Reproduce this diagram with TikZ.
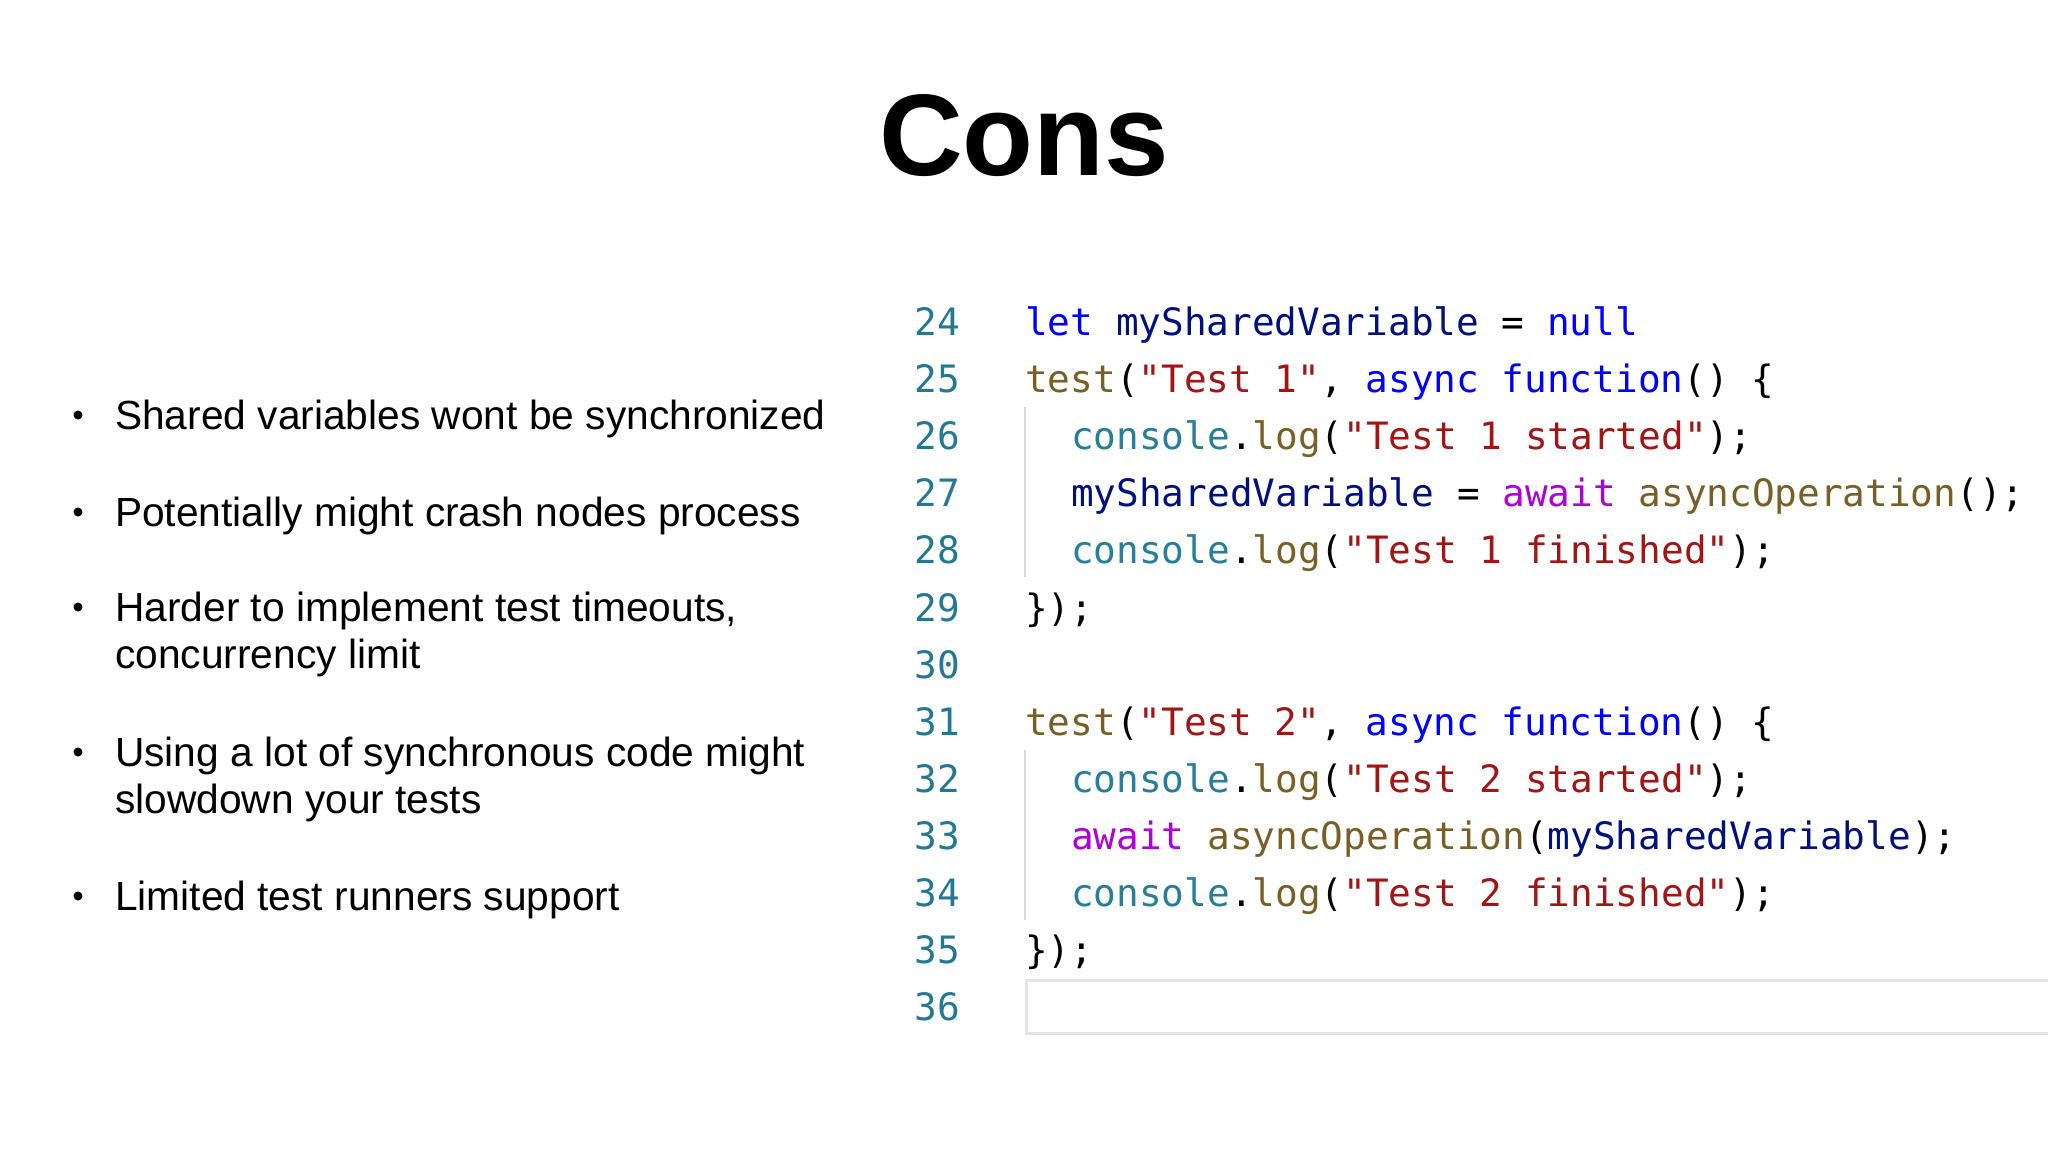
\documentclass[tikz,border=0pt]{standalone}
\usepackage{fontspec}
\setmainfont{Liberation Sans}
\newfontfamily\codefont{DejaVu Sans Mono}
\definecolor{lnum}{HTML}{237893}
\definecolor{kw}{HTML}{0000FF}
\definecolor{fn}{HTML}{795E26}
\definecolor{str}{HTML}{A31515}
\definecolor{cls}{HTML}{267F99}
\definecolor{var}{HTML}{001080}
\definecolor{ctl}{HTML}{AF00DB}
\newcommand{\K}[1]{\textcolor{kw}{#1}}
\newcommand{\F}[1]{\textcolor{fn}{#1}}
\newcommand{\Sg}[1]{\textcolor{str}{#1}}
\newcommand{\C}[1]{\textcolor{cls}{#1}}
\newcommand{\V}[1]{\textcolor{var}{#1}}
\newcommand{\A}[1]{\textcolor{ctl}{#1}}
\begin{document}
\begin{tikzpicture}[x=1pt,y=-1pt,
  bul/.style={inner sep=0pt,anchor=mid west,font=\fontsize{40.7}{48}\selectfont},
  dot/.style={circle,fill=black,inner sep=0pt,minimum size=9pt},
  ln/.style={inner sep=0pt,anchor=mid east,text=lnum,font=\codefont\fontsize{37.7}{45}\selectfont},
  cd/.style={inner sep=0pt,anchor=mid west,font=\codefont\fontsize{37.7}{45}\selectfont}]
\fill[white] (0,0) rectangle (2048,1152);
\useasboundingbox (0,0) rectangle (2048,1152);
\node[inner sep=0pt,font=\bfseries\fontsize{116}{120}\selectfont] (title) at (1024,136) {Cons};
% bullets
\foreach \y/\n in {415/b1,512/b2,607/b3,752/b4,896/b5}
  \node[dot] (\n) at (78,\y) {};
\begin{scope}[yshift=-12pt]
\node[bul] (t1) at (115,415) {Shared variables wont be synchronized};
\node[bul] (t2) at (115,512) {Potentially might crash nodes process};
\node[bul] (t3) at (115,607) {Harder to implement test timeouts,};
\node[bul] (t3b) at (115,654) {concurrency limit};
\node[bul] (t4) at (115,752) {Using a lot of synchronous code might};
\node[bul] (t4b) at (115,799) {slowdown your tests};
\node[bul] (t5) at (115,896) {Limited test runners support};
% line numbers
\foreach \i in {24,...,36}
  \node[ln] (n\i) at (960,{321+(\i-24)*57.07}) {\i};
% code
\def\cx{1025}\def\ix{1071}
\node[cd] (c24) at (\cx,321) {\K{let} \V{mySharedVariable} = \K{null}};
\node[cd] (c25) at (\cx,{321+1*57.07}) {\F{test}(\Sg{"Test 1"}, \K{async} \K{function}() \{};
\node[cd] (c26) at (\ix,{321+2*57.07}) {\C{console}.\F{log}(\Sg{"Test 1 started"});};
\node[cd] (c27) at (\ix,{321+3*57.07}) {\V{mySharedVariable} = \A{await} \F{asyncOperation}();};
\node[cd] (c28) at (\ix,{321+4*57.07}) {\C{console}.\F{log}(\Sg{"Test 1 finished"});};
\node[cd] (c29) at (\cx,{321+5*57.07}) {\});};
\node[cd] (c31) at (\cx,{321+7*57.07}) {\F{test}(\Sg{"Test 2"}, \K{async} \K{function}() \{};
\node[cd] (c32) at (\ix,{321+8*57.07}) {\C{console}.\F{log}(\Sg{"Test 2 started"});};
\node[cd] (c33) at (\ix,{321+9*57.07}) {\A{await} \F{asyncOperation}(\V{mySharedVariable});};
\node[cd] (c34) at (\ix,{321+10*57.07}) {\C{console}.\F{log}(\Sg{"Test 2 finished"});};
\node[cd] (c35) at (\cx,{321+11*57.07}) {\});};
\end{scope}
% indent guides
\draw[black!15,line width=1.5pt] (1025,{321+2*57.07-28}) -- (1025,{321+4*57.07+28});
\draw[black!15,line width=1.5pt] (1025,{321+8*57.07-28}) -- (1025,{321+10*57.07+28});
% current line box
\draw[black!10,line width=3pt] (2060,980) -- (1026,980) -- (1026,1033) -- (2060,1033);
\end{tikzpicture}
\end{document}
